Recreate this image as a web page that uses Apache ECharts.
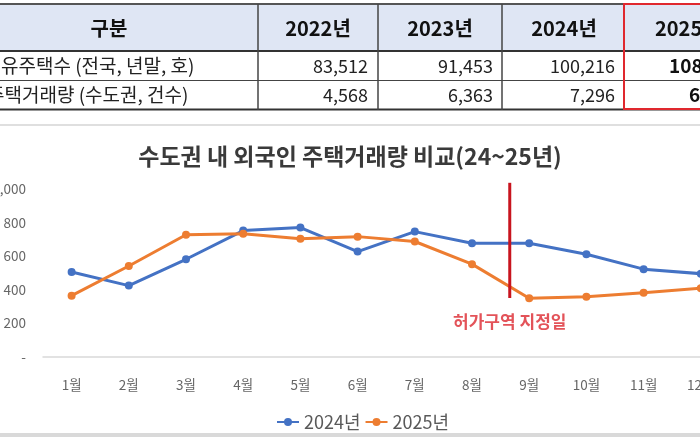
<!DOCTYPE html>
<html>
<head>
<meta charset="utf-8">
<script src="https://cdn.jsdelivr.net/npm/echarts@6/dist/echarts.min.js"></script>
<style>
html,body{margin:0;padding:0;background:#fff;}
#c{width:700px;height:440px;}
</style>
</head>
<body>
<div id="c"></div>
<script>
// ---- data ----
const months = ['1월','2월','3월','4월','5월','6월','7월','8월','9월','10월','11월','12월'];
const y2024 = [505, 424, 581, 752, 770, 627, 746, 677, 677, 611, 522, 495];
const y2025 = [364, 541, 727, 733, 703, 716, 687, 552, 349, 358, 382, 408];
const seriesNames = ['2024년', '2025년'];
const yTicks = [0, 200, 400, 600, 800, 1000];
const chartTitle = '수도권 내 외국인 주택거래량 비교(24~25년)';
const markerLabel = '허가구역 지정일';
const markerIndex = 7.66;          // between 8월 and 9월
const markerRange = [350, 1037];
const markerLabelValue = 207;

const tableHeader = ['구분', '2022년', '2023년', '2024년', '2025'];
const rowLabels = ['유주택수 (전국, 년말, 호)', '주택거래량 (수도권, 건수)'];
const holdingsRow = ['83,512', '91,453', '100,216', '108'];
const tradesRow = ['4,568', '6,363', '7,296', '6'];

// ---- table layout (styles/positions) ----
const FONT = '"Noto Sans CJK KR", "Noto Sans", sans-serif';
const colLines = [258, 378, 502];
const headerCenters = [109, 318, 440, 564];
const valueRights = [368, 493, 615];
const rowY = [66, 95];

const g = [];
g.push({type:'rect', shape:{x:0, y:4, width:700, height:47}, style:{fill:'#dfe6f4'}, silent:true});
g.push({type:'line', shape:{x1:0, y1:4, x2:700, y2:4}, style:{stroke:'#555', lineWidth:2}});
g.push({type:'line', shape:{x1:0, y1:51, x2:700, y2:51}, style:{stroke:'#333', lineWidth:2}});
g.push({type:'line', shape:{x1:0, y1:80.5, x2:700, y2:80.5}, style:{stroke:'#444', lineWidth:1}});
g.push({type:'line', shape:{x1:0, y1:109.5, x2:700, y2:109.5}, style:{stroke:'#333', lineWidth:2}});
colLines.forEach(x => g.push({type:'line', shape:{x1:x, y1:4, x2:x, y2:110}, style:{stroke:'#444', lineWidth:1.5}}));
g.push({type:'rect', shape:{x:624, y:4, width:80, height:105}, style:{fill:'none', stroke:'#e0282e', lineWidth:2}, z:10});
// header texts
tableHeader.forEach((t, i) => {
  if (i < 4) {
    g.push({type:'text', x:headerCenters[i], y:28, style:{text:t, fill:'#111', fontSize:20, fontWeight:'bold', fontFamily:FONT, align:'center', verticalAlign:'middle'}});
  } else {
    g.push({type:'text', x:655, y:28, style:{text:t, fill:'#111', fontSize:20, fontWeight:'bold', fontFamily:FONT, align:'left', verticalAlign:'middle'}});
  }
});
// row labels
g.push({type:'text', x:1, y:rowY[0], style:{text:rowLabels[0], fill:'#222', fontSize:19, fontFamily:FONT, align:'left', verticalAlign:'middle'}});
g.push({type:'text', x:-13, y:rowY[1], style:{text:rowLabels[1], fill:'#222', fontSize:19, fontFamily:FONT, align:'left', verticalAlign:'middle'}});
// values
[holdingsRow, tradesRow].forEach((row, r) => {
  row.forEach((v, i) => {
    if (i < 3) {
      g.push({type:'text', x:valueRights[i], y:rowY[r], style:{text:v, fill:'#222', fontSize:18, fontFamily:FONT, align:'right', verticalAlign:'middle'}});
    } else {
      g.push({type:'text', x:(r === 0 ? 669 : 689), y:rowY[r], style:{text:v, fill:'#111', fontSize:19, fontWeight:'bold', fontFamily:FONT, align:'left', verticalAlign:'middle'}});
    }
  });
});
// chart frame lines
g.push({type:'line', shape:{x1:0, y1:125, x2:700, y2:125}, style:{stroke:'#d4d4d4', lineWidth:1.5}});
g.push({type:'rect', shape:{x:0, y:433, width:700, height:4}, style:{fill:'#d9d9d9'}});

const chart = echarts.init(document.getElementById('c'));
chart.setOption({
  animation:false,
  backgroundColor:'#fff',
  textStyle:{fontFamily:FONT},
  title:{text:chartTitle, left:'center', top:145, padding:0,
    textStyle:{fontSize:23, fontWeight:'bold', color:'#3a3a3a', fontFamily:FONT}},
  legend:{data:seriesNames, left:271, top:408, itemWidth:22, itemHeight:10, itemGap:4,
    textStyle:{fontSize:18, color:'#595959', fontFamily:FONT}},
  grid:{left:43, width:686.4, top:189, bottom:83.3, containLabel:false, outerBoundsMode:'none'},
  xAxis:[
    {type:'category', data:months, boundaryGap:true,
     axisLine:{lineStyle:{color:'#d9d9d9', width:1.5}}, axisTick:{show:false},
     axisLabel:{color:'#666', fontSize:13.5, margin:21}},
    {type:'value', min:-0.5, max:11.5, show:false}
  ],
  yAxis:{type:'value', min:yTicks[0], max:yTicks[yTicks.length-1], interval:200,
    axisLine:{show:false}, axisTick:{show:false}, splitLine:{show:false},
    axisLabel:{color:'#666', fontSize:13.5, margin:17,
      formatter: v => v === 0 ? '-' : v.toLocaleString('en-US')}},
  series:[
    {name:seriesNames[0], type:'line', data:y2024, symbol:'circle', symbolSize:8,
     lineStyle:{width:3, color:'#4472C4'}, itemStyle:{color:'#4472C4'}, z:3},
    {name:seriesNames[1], type:'line', data:y2025, symbol:'circle', symbolSize:8,
     lineStyle:{width:3, color:'#ED7D31'}, itemStyle:{color:'#ED7D31'}, z:3},
    {name:'marker', type:'line', xAxisIndex:1, data:[[markerIndex, markerRange[0]],[markerIndex, markerRange[1]]],
     symbol:'none', clip:false, lineStyle:{width:3, color:'#c8141e'}, z:5, silent:true},
    {name:'markerLabel', type:'scatter', xAxisIndex:1, data:[[markerIndex, markerLabelValue]],
     symbolSize:1, itemStyle:{color:'rgba(0,0,0,0)'}, silent:true,
     label:{show:true, position:'inside', formatter:markerLabel, color:'#dc2830', fontSize:17, fontWeight:'bold', fontFamily:FONT}}
  ],
  graphic:g
});
</script>
</body>
</html>
